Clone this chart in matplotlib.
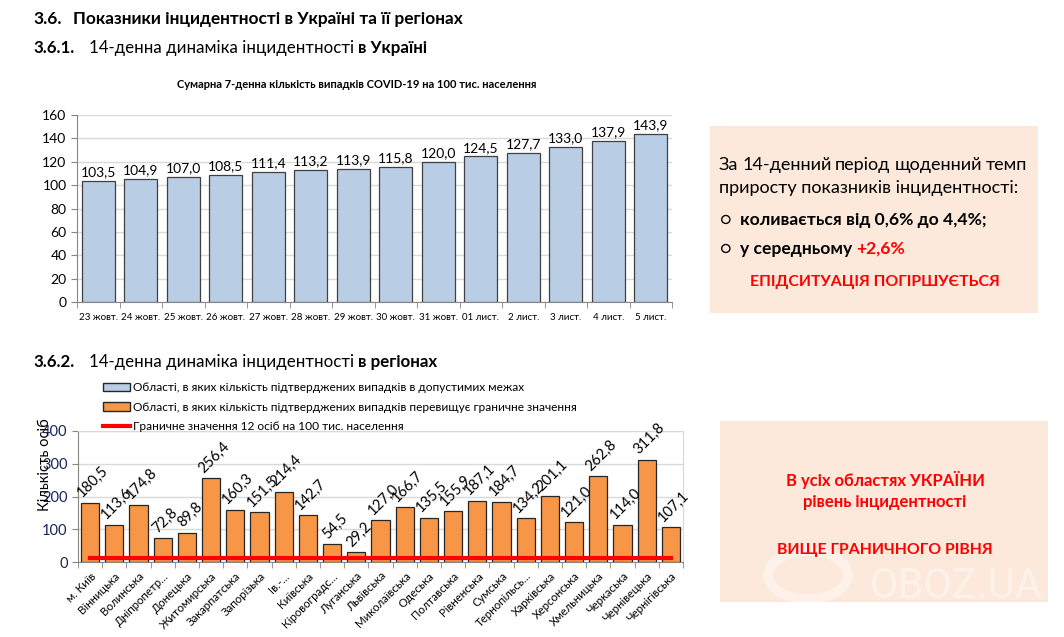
import matplotlib
matplotlib.use('Agg')
import matplotlib.pyplot as plt
from matplotlib.patches import Patch, Rectangle, Circle
from matplotlib.lines import Line2D
import numpy as np

# --- дані ---
dates = ['23 жовт.', '24 жовт.', '25 жовт.', '26 жовт.', '27 жовт.', '28 жовт.',
         '29 жовт.', '30 жовт.', '31 жовт.', '01 лист.', '2 лист.', '3 лист.',
         '4 лист.', '5 лист.']
incidence_ua = [103.5, 104.9, 107.0, 108.5, 111.4, 113.2, 113.9, 115.8, 120.0,
                124.5, 127.7, 133.0, 137.9, 143.9]

regions = ['м. Київ', 'Вінницька', 'Волинська', 'Дніпропетр...', 'Донецька',
           'Житомирська', 'Закарпатська', 'Запорізька', 'Ів.-...', 'Київська',
           'Кіровоградс...', 'Луганська', 'Львівська', 'Миколаївська', 'Одеська',
           'Полтавська', 'Рівненська', 'Сумська', 'Тернопільсь...', 'Харківська',
           'Херсонська', 'Хмельницька', 'Черкаська', 'Чернівецька', 'Чернігівська']
incidence_reg = [180.5, 113.6, 174.8, 72.8, 89.8, 256.4, 160.3, 151.5, 214.4, 142.7,
                 54.5, 29.2, 127.0, 166.7, 135.5, 155.9, 187.1, 184.7, 134.2, 201.1,
                 121.0, 262.8, 114.0, 311.8, 107.1]
threshold = 12

BLUE = '#B9CDE5'
ORANGE = '#F79646'
BOX = '#FCE9DB'

plt.rcParams['font.family'] = ['Lato', 'DejaVu Sans']

W, H = 1064, 637
fig = plt.figure(figsize=(W / 100, H / 100), dpi=100)


def fx(px):
    return px / W


def fy(py):
    return 1 - py / H


def fmt(v):
    return f'{v:.1f}'.replace('.', ',')


renderer = fig.canvas.get_renderer()


def width_of(t):
    return t.get_window_extent(renderer).width / W


def chunks(x, y, parts, size, ha='left', gap=None):
    # parts: (text, weight, color); gap in pixels between parts
    texts = []
    cx = fx(x)
    for i, (s, weight, color) in enumerate(parts):
        t = fig.text(cx, fy(y), s, fontsize=size, weight=weight, color=color,
                     va='baseline', ha='left')
        cx += width_of(t)
        if i < len(parts) - 1:
            g = gap[i] if isinstance(gap, list) else (gap or 0)
            cx += fx(g)
        texts.append(t)
    if ha == 'center':
        shift = (cx - fx(x)) / 2
        for t in texts:
            t.set_x(t.get_position()[0] - shift)
    return texts


def justify(x0, x1, y, text, size, weight='normal', color='black'):
    words = text.split()
    ts = [fig.text(0, fy(y), w, fontsize=size, weight=weight, color=color,
                   va='baseline') for w in words]
    ws = [width_of(t) for t in ts]
    space = (fx(x1) - fx(x0) - sum(ws)) / (len(words) - 1)
    cx = fx(x0)
    for t, w in zip(ts, ws):
        t.set_x(cx)
        cx += w + space


# --- заголовки ---
chunks(33, 24, [('3.6.', 'bold', 'black'),
                ('Показники інцидентності в Україні та її регіонах', 'bold', 'black')],
       12.4, gap=12)
chunks(33, 53, [('3.6.1.', 'bold', 'black'),
                ('14-денна динаміка інцидентності', 'normal', 'black'),
                ('в Україні', 'bold', 'black')], 12.2, gap=[15, 4])
chunks(33, 367, [('3.6.2.', 'bold', 'black'),
                 ('14-денна динаміка інцидентності', 'normal', 'black'),
                 ('в регіонах', 'bold', 'black')], 12.2, gap=[15, 4])

# --- верхній графік ---
ax1 = fig.add_axes([fx(77), fy(302), fx(672) - fx(77), fy(115) - fy(302)])
x1 = np.arange(len(dates))
ax1.bar(x1, incidence_ua, width=0.78, color=BLUE, edgecolor='#404040',
        linewidth=0.9, zorder=3)
for i, v in enumerate(incidence_ua):
    ax1.annotate(fmt(v), (i, v), xytext=(0, 2), textcoords='offset points',
                 ha='center', va='bottom', fontsize=10)
ax1.set_xlim(-0.5, len(dates) - 0.5)
ax1.set_ylim(0, 160)
ax1.set_yticks(np.arange(0, 161, 20))
ax1.set_xticks(x1)
ax1.set_xticklabels(dates, fontsize=7)
ax1.set_xticks(np.arange(-0.5, len(dates)), minor=True)
ax1.tick_params(axis='x', which='major', length=0, pad=8)
ax1.tick_params(axis='x', which='minor', length=4, color='#868686')
ax1.tick_params(axis='y', length=4, color='#868686', labelsize=10)
ax1.grid(axis='y', color='#D9D9D9', linewidth=1, zorder=0)
ax1.set_axisbelow(True)
for s in ['top', 'right']:
    ax1.spines[s].set_visible(False)
for s in ['left', 'bottom']:
    ax1.spines[s].set_color('#868686')
fig.text(fx(357), fy(84), 'Сумарна 7-денна кількість випадків COVID-19 на 100 тис. населення',
         ha='center', va='center', fontsize=8, weight='bold')

# --- нижній графік ---
ax2 = fig.add_axes([fx(78), fy(562), fx(683) - fx(78), fy(431) - fy(562)])
x2 = np.arange(len(regions))
colors = [ORANGE if v > threshold else BLUE for v in incidence_reg]
ax2.bar(x2, incidence_reg, width=0.75, color=colors, edgecolor='#262626',
        linewidth=0.9, zorder=3)
ax2.plot(x2, [threshold] * len(regions), color='#FF0000', linewidth=3, zorder=4)
for i, v in enumerate(incidence_reg):
    ax2.annotate(fmt(v), (i, v), xytext=(2, 2), textcoords='offset points',
                 ha='center', va='bottom', rotation=45, fontsize=10.5)
ax2.set_xlim(-0.5, len(regions) - 0.5)
ax2.set_ylim(0, 400)
ax2.set_yticks(np.arange(0, 401, 100))
ax2.set_xticks(x2)
ax2.set_xticklabels(regions, fontsize=8.3, rotation=45, ha='right',
                    rotation_mode='anchor')
ax2.set_xticks(np.arange(-0.5, len(regions)), minor=True)
ax2.tick_params(axis='x', which='major', length=0, pad=6)
ax2.tick_params(axis='x', which='minor', length=4, color='#868686')
ax2.tick_params(axis='y', length=4, color='#868686', labelsize=10.5,
                labelcolor='#14255A')
ax2.grid(axis='y', color='#D9D9D9', linewidth=1, zorder=0)
ax2.set_axisbelow(True)
for s in ['top', 'right']:
    ax2.spines[s].set_color('#D9D9D9')
for s in ['left', 'bottom']:
    ax2.spines[s].set_color('#868686')
fig.text(fx(45), fy(465), 'Кількість осіб', rotation=90, ha='center',
         va='center', fontsize=10.5)

handles = [Patch(facecolor=BLUE, edgecolor='#262626'),
           Patch(facecolor=ORANGE, edgecolor='#262626'),
           Line2D([], [], color='#FF0000', linewidth=3)]
labels = ['Області, в яких кількість підтверджених випадків в допустимих межах',
          'Області, в яких кількість підтверджених випадків перевищує граничне значення',
          'Граничне значення 12 осіб на 100 тис. населення']
fig.legend(handles, labels, loc='upper left', bbox_to_anchor=(fx(103), fy(382)),
           frameon=False, fontsize=8.6, handlelength=2.3, handleheight=0.7,
           labelspacing=0.72, handletextpad=0.25, borderaxespad=0, borderpad=0)

# --- текстові блоки ---
fig.patches.append(Rectangle((fx(710), fy(313)), fx(1038) - fx(710),
                             fy(126) - fy(313), transform=fig.transFigure,
                             facecolor=BOX, edgecolor='none', zorder=0))
fig.patches.append(Rectangle((fx(720), fy(602)), fx(1048) - fx(720),
                             fy(421) - fy(602), transform=fig.transFigure,
                             facecolor=BOX, edgecolor='none', zorder=0))

BS = 13
justify(719, 1027, 170, 'За 14-денний період щоденний темп', BS)
chunks(719, 193, [('приросту показників інцидентності:', 'normal', 'black')], BS)
chunks(720, 225, [('○', 'normal', 'black'),
                  ('коливається від 0,6% до 4,4%;', 'bold', 'black')], 12.6, gap=8)
chunks(720, 254, [('○', 'normal', 'black'), ('у середньому', 'bold', 'black'),
                  ('+2,6%', 'bold', '#FF0000')], 12.6, gap=[8, 4])
chunks(875, 286, [('ЕПІДСИТУАЦІЯ ПОГІРШУЄТЬСЯ', 'bold', '#FF0000')], 11.4, ha='center')

chunks(885, 486, [('В усіх областях УКРАЇНИ', 'bold', '#FF0000')], 12, ha='center')
chunks(885, 507, [('рівень інцидентності', 'bold', '#FF0000')], 12, ha='center')
chunks(885, 554, [('ВИЩЕ ГРАНИЧНОГО РІВНЯ', 'bold', '#FF0000')], 11.4, ha='center')

# водяний знак
fig.patches.append(Circle((fx(808), fy(575)), 40 / W, transform=fig.transFigure,
                          facecolor='none', edgecolor='white', alpha=0.4,
                          linewidth=7, zorder=1))
fig.text(fx(1042), fy(598), 'OBOZ.UA', fontsize=30, color='white', alpha=0.45,
         ha='right', va='baseline', family=['Roboto', 'DejaVu Sans'])

fig.savefig('out.png', dpi=100)
